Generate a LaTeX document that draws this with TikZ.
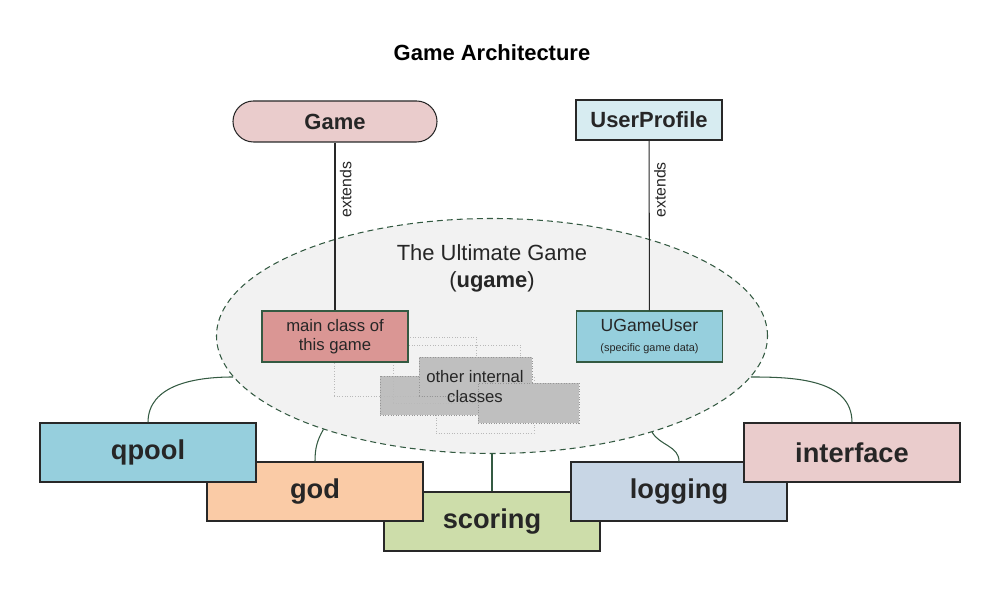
\documentclass[tikz,border=0pt]{standalone}
\usepackage{fontspec}
\setmainfont{Liberation Sans}
\usepackage{xcolor}
\usepackage{tikz}
\usetikzlibrary{shapes.geometric,positioning}
\definecolor{gamepink}{RGB}{234,204,204}
\definecolor{profilecyan}{RGB}{215,236,241}
\definecolor{bubblegrey}{RGB}{242,242,242}
\definecolor{bubbleedge}{RGB}{52,90,66}
\definecolor{mainred}{RGB}{218,150,148}
\definecolor{userblue}{RGB}{150,207,221}
\definecolor{hiddengrey}{RGB}{191,191,191}
\definecolor{hiddenedge}{RGB}{150,150,150}
\definecolor{ghostline}{RGB}{185,185,185}
\definecolor{godorange}{RGB}{250,203,166}
\definecolor{scoregreen}{RGB}{205,221,170}
\definecolor{logblue}{RGB}{200,214,229}
\definecolor{textdark}{RGB}{38,38,38}
\definecolor{boxedge}{RGB}{40,40,40}
\tikzset{
  topbox/.style    = {rectangle, draw=boxedge, line width=0.6pt, text=textdark,
                      minimum height=8mm, font=\fontsize{12.5}{15}\selectfont\bfseries},
  inbox/.style     = {rectangle, draw=bubbleedge, line width=0.6pt, text=textdark,
                      minimum width=29.2mm, minimum height=10.2mm, align=center,
                      font=\fontsize{9.5}{10.8}\selectfont},
  bubble/.style    = {ellipse, draw=bubbleedge, fill=bubblegrey, line width=0.6pt,
                      dash pattern=on 3.4pt off 2.3pt, inner sep=0pt,
                      minimum width=110.2mm, minimum height=47mm},
  ghost/.style     = {rectangle, draw=ghostline, line width=0.5pt, densely dotted, inner sep=0pt},
  hidden/.style    = {rectangle, draw=hiddenedge, fill=hiddengrey, line width=0.5pt,
                      densely dotted, inner sep=0pt},
  module/.style    = {rectangle, draw=boxedge, line width=0.6pt, text=textdark,
                      minimum width=43.2mm, minimum height=11.8mm,
                      font=\fontsize{15.5}{18}\selectfont\bfseries},
  ext/.style       = {draw=boxedge, line width=0.6pt},
  extlabel/.style  = {rotate=90, anchor=north, inner sep=2.5pt, text=textdark,
                      font=\fontsize{9}{11}\selectfont},
  link/.style      = {draw=bubbleedge, line width=0.6pt},
}

\begin{document}
\begin{tikzpicture}[x=0.2mm, y=0.2mm]
\useasboundingbox (0,0) rectangle (1000,600);

% title
\node[font=\fontsize{12.5}{15}\selectfont\bfseries] (title) at (492,547) {Game Architecture};

% base classes
\node[topbox, fill=gamepink, rounded corners=4.1mm, minimum width=40.8mm, minimum height=8.2mm]
  (game) at (335,478.5) {Game};
\node[topbox, fill=profilecyan, minimum width=29.2mm] (profile) at (649,480) {UserProfile};

% the ugame bubble
\node[bubble] (ugame) at (492,264) {};
\node[text=textdark, align=center, font=\fontsize{12.5}{15.4}\selectfont]
  (ugtitle) at (492,332) {The Ultimate Game\\(\textbf{ugame})};

% other internal classes (stacked, dotted)
\node[ghost, minimum width=19.6mm, minimum height=11.2mm] (oc3) at (485,195) {};
\node[hidden, minimum width=24mm, minimum height=7.8mm] (hc1) at (440,204.5) {};
\node[ghost, minimum width=28.4mm, minimum height=11.8mm] (oc1) at (405,233.5) {};
\node[ghost, minimum width=25.4mm, minimum height=11.6mm] (oc2) at (456.5,226) {};
\node[hidden, minimum width=22.6mm, minimum height=7.8mm] (hc2) at (475.5,223.5) {};
\node[hidden, minimum width=20.2mm, minimum height=8mm] (hc3) at (528.5,197) {};
\node[text=textdark, align=center, font=\fontsize{9.5}{11.4}\selectfont]
  (others) at (475,213) {other internal\\classes};

% classes inside ugame
\node[inbox, fill=mainred] (main) at (335,263.5) {main class of\\this game};
\node[inbox, fill=userblue] (guser) at (649.5,263.5)
  {\fontsize{10}{12}\selectfont UGameUser\\[1pt]{\fontsize{6.2}{8}\selectfont (specific game data)}};

\draw[ext] (game) -- node[extlabel, pos=0.28] {extends} (main);
\draw[ext] (profile) -- node[extlabel, pos=0.29] {extends} (guser);

% modules
\node[module, fill=scoregreen] (scoring) at (492,78.5) {scoring};
\node[module, fill=godorange] (god) at (315,108.5) {god};
\node[module, fill=logblue] (logging) at (679,108.5) {logging};
\node[module, fill=userblue] (qpool) at (148,147.5) {qpool};
\node[module, fill=gamepink] (interface) at (852,147.5) {interface};

\draw[link] (qpool.north) to[out=90, in=180] (ugame.189.75);
\draw[link] (god.north) to[out=90, in=240] (ugame.209.6);
\draw[link] (ugame.south) -- (scoring.north);
\draw[link] (logging.north) to[out=90, in=300] (ugame.329.5);
\draw[link] (interface.north) to[out=90, in=0] (ugame.351);

\end{tikzpicture}
\end{document}
